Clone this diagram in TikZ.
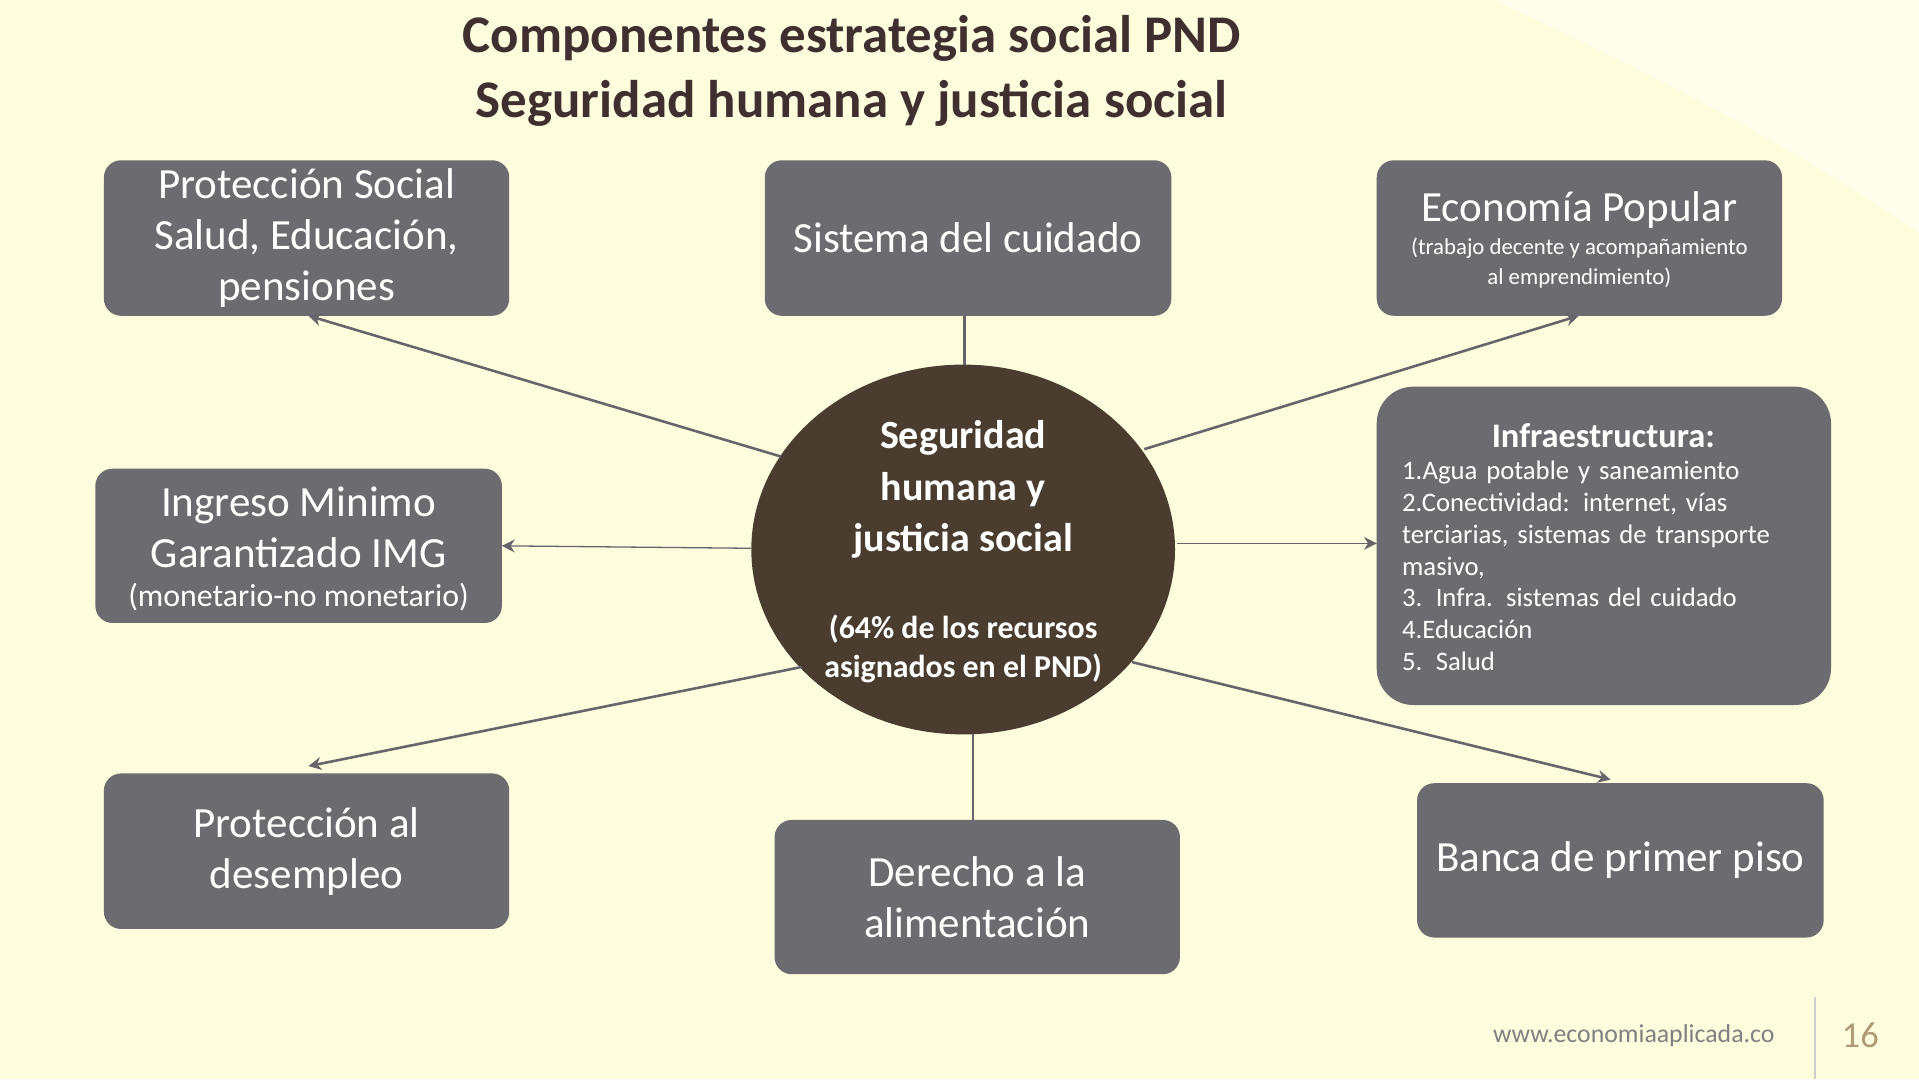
\documentclass[tikz,border=0pt]{standalone}
\usepackage{fontspec}
\usetikzlibrary{shapes.geometric,arrows.meta}
\setmainfont{Carlito}
\definecolor{bg}{HTML}{FDFDDE}
\definecolor{boxg}{HTML}{6C6B70}
\definecolor{ell}{HTML}{4A3D30}
\definecolor{ttl}{HTML}{3F2F2F}
\definecolor{ln}{HTML}{66656A}
\definecolor{pgc}{HTML}{B09A78}
\newlength{\pu}\setlength{\pu}{0.1mm}
\hyphenpenalty=10000
\begin{document}
\begin{tikzpicture}[x=0.01cm,y=-0.01cm,
 gbox/.style={fill=boxg,rounded corners=14\pu,text=white,align=center,inner sep=1pt},
 conn/.style={draw=ln,line width=0.6pt},
 arr/.style={conn,-{Stealth[length=3pt,width=3pt]}},
 big/.style={font=\fontsize{10}{11.8}\selectfont}]
\fill[bg] (0,0) rectangle (1568,882);
\useasboundingbox (0,0) rectangle (1568,882);
\fill[white,opacity=0.35] (1220,0) -- (1568,0) -- (1568,190) .. controls (1450,110) and (1330,50) .. cycle;
\node[font=\fontsize{12.3}{15}\selectfont\bfseries,text=ttl,align=center] (title) at (696,58) {Componentes estrategia social PND\\Seguridad humana y justicia social};
\node[gbox,big,minimum width=331\pu,minimum height=127\pu] (ps) at (250.5,194.5) {Protección Social\\Salud, Educación,\\pensiones};
\node[gbox,big,minimum width=332\pu,minimum height=127\pu] (sc) at (791,194.5) {Sistema del cuidado};
\node[gbox,minimum width=331\pu,minimum height=127\pu] (ep) at (1290.5,194.5) {};
\node[text=white,font=\fontsize{10}{12}\selectfont] (ept) at (1290.5,172) {Economía Popular};
\node[text=white,align=center,font=\fontsize{5.3}{6.8}\selectfont] (eps) at (1290.5,215) {(trabajo decente y acompañamiento\\al emprendimiento)};
\node[gbox,rounded corners=30\pu,minimum width=371\pu,minimum height=260\pu] (inf) at (1310.5,446) {};
\node[text=white,font=\fontsize{8}{10}\selectfont\bfseries] (inft) at (1310,356) {Infraestructura:};
\node[text=white,anchor=north west,align=left,text width=330\pu,inner sep=0pt,font=\fontsize{6.2}{7.4}\selectfont] (infl) at (1145,376) {1.Agua potable y saneamiento\\2.Conectividad: internet, vías terciarias, sistemas de transporte masivo,\\3. Infra. sistemas del cuidado\\4.Educación\\5. Salud};
\node[gbox,minimum width=332\pu,minimum height=126\pu] (img) at (244,446) {};
\node[text=white,align=center,font=\fontsize{10}{11.8}\selectfont] (imgt) at (244,431) {Ingreso Minimo\\Garantizado IMG};
\node[text=white,font=\fontsize{7.4}{9}\selectfont] (imgs) at (244,488) {(monetario-no monetario)};
\node[gbox,big,minimum width=331\pu,minimum height=127\pu] (pd) at (250.5,695.5) {Protección al\\desempleo};
\node[gbox,big,minimum width=331\pu,minimum height=126\pu] (da) at (798.5,733) {Derecho a la\\alimentación};
\node[gbox,big,minimum width=332\pu,minimum height=126\pu] (bp) at (1324,703) {Banca de primer piso};
\node[ellipse,fill=ell,minimum width=346\pu,minimum height=302\pu,inner sep=0pt] (c) at (787,449) {};
\node[text=white,align=center,font=\fontsize{9.3}{12}\selectfont\bfseries] (ct) at (787,400) {Seguridad\\humana y\\justicia social};
\node[text=white,align=center,font=\fontsize{7.4}{9.1}\selectfont\bfseries] (cs) at (787,530) {(64\% de los recursos\\asignados en el PND)};
\coordinate (a1) at (638,373); \coordinate (a1e) at (252,258);
\coordinate (a3) at (935,367); \coordinate (a3e) at (1290,258);
\coordinate (a4) at (614,448); \coordinate (a4e) at (410,446);
\coordinate (a5) at (962,444); \coordinate (a5e) at (1125,444);
\coordinate (a6) at (655,545); \coordinate (a6e) at (252,626);
\coordinate (a7) at (925,541); \coordinate (a7e) at (1316,637);
\coordinate (b1) at (788,298); \coordinate (b1e) at (788,258);
\coordinate (b2) at (795,600); \coordinate (b2e) at (795,670);
\draw[arr] (a1) -- (a1e);
\draw[conn] (b1) -- (b1e);
\draw[arr] (a3) -- (a3e);
\draw[arr,line width=0.3pt] (a4) -- (a4e);
\draw[arr,line width=0.3pt] (a5) -- (a5e);
\draw[arr] (a6) -- (a6e);
\draw[arr] (a7) -- (a7e);
\draw[conn] (b2) -- (b2e);
\node[text=gray,font=\fontsize{6}{7}\selectfont] (web) at (1335,846) {www.economiaaplicada.co};
\draw[draw=gray!40,line width=0.4pt] (1483,815) -- (1483,882);
\node[text=pgc,font=\fontsize{8.5}{10}\selectfont] (pg) at (1520,846) {16};
\end{tikzpicture}
\end{document}
